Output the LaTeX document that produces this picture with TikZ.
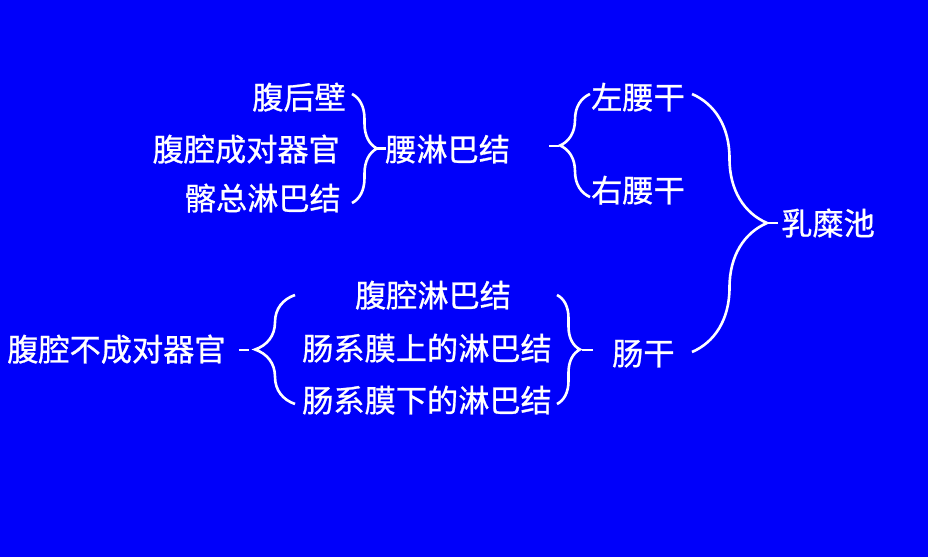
\documentclass[tikz,border=0pt]{standalone}
\usepackage{fontspec}
\setmainfont{Noto Sans CJK SC}[FakeBold=0.8]
\usetikzlibrary{decorations.pathreplacing}
\definecolor{bgblue}{RGB}{0,0,250}
\begin{document}
\begin{tikzpicture}[x=1pt,y=-1pt,
  lbl/.style={text=white,inner sep=0pt,font=\fontsize{31.2}{32}\selectfont},
  brc/.style={draw=white,line width=2.6pt,decorate,decoration={brace,amplitude=#1}},
  dsh/.style={draw=white,line width=2.6pt}]
\fill[bgblue] (0,0) rectangle (928,557);
\useasboundingbox (0,0) rectangle (928,557);
% upper left group
\node[lbl,anchor=base east] (a1) at (346,109) {腹后壁};
\node[lbl,anchor=base east] (a2) at (340,161) {腹腔成对器官};
\node[lbl,anchor=base east] (a3) at (341,210) {髂总淋巴结};
\node[lbl,anchor=base west] (b) at (385,161) {腰淋巴结};
\node[lbl,anchor=base west] (c1) at (591,109) {左腰干};
\node[lbl,anchor=base west] (c2) at (591,202) {右腰干};
\node[lbl,anchor=base west] (r) at (781,235) {乳糜池};
\node[lbl,anchor=base west] (g) at (612,365) {肠干};
% lower group
\node[lbl,anchor=base west] (l) at (7,361) {腹腔不成对器官};
\node[lbl,anchor=base] (m1) at (433,307) {腹腔淋巴结};
\node[lbl,anchor=base west] (m2) at (302,360) {肠系膜上的淋巴结};
\node[lbl,anchor=base west] (m3) at (302,412) {肠系膜下的淋巴结};
% brace coordinates
\coordinate (B1t) at (352,94); \coordinate (B1b) at (352,203); \coordinate (B1tip) at (377,148.5);
\coordinate (B2t) at (590,94); \coordinate (B2b) at (590,197); \coordinate (B2tip) at (560,145.5);
\coordinate (B3t) at (692,94); \coordinate (B3b) at (692,352); \coordinate (B3tip) at (767,223);
\coordinate (B4t) at (295,295); \coordinate (B4b) at (295,404); \coordinate (B4tip) at (255,349.5);
\coordinate (B5t) at (557,295); \coordinate (B5b) at (557,404); \coordinate (B5tip) at (580,349.5);
% braces
\draw[brc=25pt] (B1t) -- (B1b);
\draw[brc=30pt] (B2b) -- (B2t);
\draw[brc=75pt] (B3t) -- (B3b);
\draw[brc=40pt] (B4b) -- (B4t);
\draw[brc=23pt] (B5t) -- (B5b);
% dashes
\coordinate (D1e) at (386,148.5);
\coordinate (D2s) at (549,146); \coordinate (D2e) at (559,146);
\coordinate (D3e) at (778,223);
\coordinate (D4s) at (239,350); \coordinate (D4e) at (249,350);
\coordinate (D5s) at (582,350); \coordinate (D5e) at (593,350);
\draw[dsh] (B1tip) -- (D1e);
\draw[dsh] (D2s) -- (D2e);
\draw[dsh] (B3tip) -- (D3e);
\draw[dsh] (D4s) -- (D4e);
\draw[dsh] (D5s) -- (D5e);
\end{tikzpicture}
\end{document}
